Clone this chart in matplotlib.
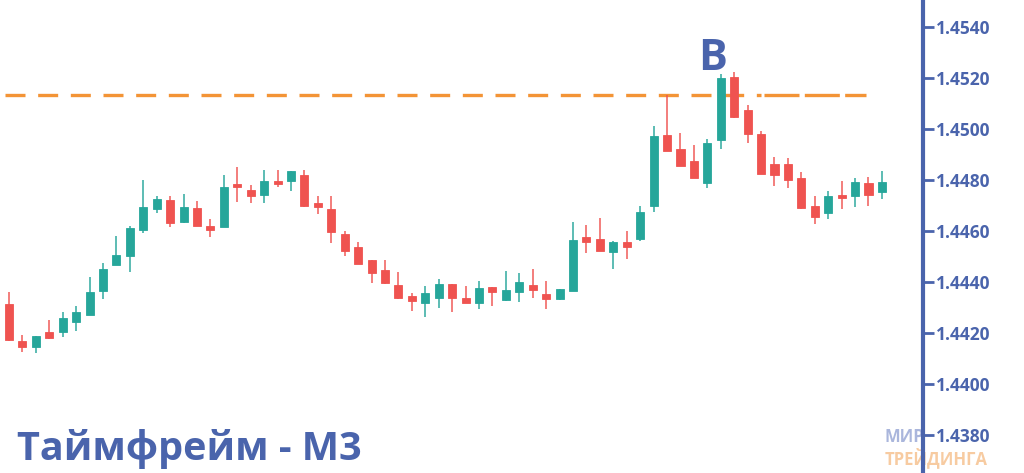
"""
candlestick chart, timeframe M3
"""

import numpy as np
from matplotlib import pyplot as plt

# OHLC values
opens = [1.44314, 1.44169, 1.44145, 1.44204, 1.44204, 1.44243, 1.44271, 1.44365, 1.44467, 1.44502,
         1.44604, 1.44686, 1.44722, 1.44635, 1.44690, 1.44620, 1.44616, 1.44784, 1.44761, 1.44741,
         1.44796, 1.44796, 1.44820, 1.44710, 1.44686, 1.44588, 1.44537, 1.44486, 1.44447, 1.44388,
         1.44345, 1.44318, 1.44337, 1.44392, 1.44337, 1.44318, 1.44380, 1.44329, 1.44361, 1.44388,
         1.44353, 1.44333, 1.44365, 1.44576, 1.44569, 1.44518, 1.44557, 1.44569, 1.44698, 1.44976,
         1.44922, 1.44875, 1.44788, 1.44957, 1.45204, 1.45075, 1.44980, 1.44863, 1.44863, 1.44808,
         1.44698, 1.44671, 1.44741, 1.44737, 1.44788, 1.44753]
highs = [1.44361, 1.44192, 1.44190, 1.44251, 1.44282, 1.44306, 1.44420, 1.44474, 1.44580, 1.44620,
         1.44800, 1.44737, 1.44737, 1.44745, 1.44718, 1.44647, 1.44820, 1.44851, 1.44780, 1.44839,
         1.44839, 1.44837, 1.44839, 1.44737, 1.44737, 1.44600, 1.44557, 1.44488, 1.44488, 1.44439,
         1.44357, 1.44384, 1.44412, 1.44394, 1.44384, 1.44404, 1.44382, 1.44443, 1.44435, 1.44451,
         1.44404, 1.44374, 1.44635, 1.44623, 1.44651, 1.44561, 1.44600, 1.44698, 1.45012, 1.45133,
         1.44984, 1.44937, 1.44961, 1.45216, 1.45224, 1.45094, 1.44992, 1.44890, 1.44886, 1.44831,
         1.44737, 1.44757, 1.44796, 1.44808, 1.44812, 1.44835]
lows = [1.44170, 1.44125, 1.44121, 1.44178, 1.44184, 1.44208, 1.44269, 1.44333, 1.44465, 1.44439,
        1.44592, 1.44671, 1.44616, 1.44633, 1.44618, 1.44576, 1.44614, 1.44714, 1.44710, 1.44710,
        1.44773, 1.44757, 1.44696, 1.44667, 1.44553, 1.44502, 1.44469, 1.44396, 1.44394, 1.44335,
        1.44286, 1.44263, 1.44298, 1.44282, 1.44316, 1.44294, 1.44306, 1.44327, 1.44322, 1.44337,
        1.44294, 1.44331, 1.44363, 1.44514, 1.44520, 1.44451, 1.44490, 1.44561, 1.44674, 1.44912,
        1.44853, 1.44806, 1.44769, 1.44922, 1.45045, 1.44945, 1.44822, 1.44776, 1.44769, 1.44688,
        1.44627, 1.44647, 1.44686, 1.44694, 1.44698, 1.44725]
closes = [1.44172, 1.44145, 1.44188, 1.44180, 1.44259, 1.44282, 1.44361, 1.44451, 1.44506, 1.44612,
          1.44694, 1.44725, 1.44631, 1.44694, 1.44620, 1.44604, 1.44773, 1.44773, 1.44737, 1.44796,
          1.44784, 1.44835, 1.44698, 1.44694, 1.44596, 1.44522, 1.44471, 1.44435, 1.44396, 1.44337,
          1.44325, 1.44357, 1.44392, 1.44337, 1.44318, 1.44376, 1.44361, 1.44369, 1.44400, 1.44369,
          1.44333, 1.44372, 1.44565, 1.44557, 1.44522, 1.44557, 1.44537, 1.44674, 1.44973, 1.44914,
          1.44855, 1.44808, 1.44945, 1.45200, 1.45047, 1.44980, 1.44824, 1.44820, 1.44800, 1.44690,
          1.44655, 1.44737, 1.44729, 1.44792, 1.44741, 1.44792]

level = 1.45133
price_ticks = [1.4380, 1.4400, 1.4420, 1.4440, 1.4460, 1.4480, 1.4500, 1.4520, 1.4540]
title = 'Таймфрейм - M3'
point_label = 'B'

green = '#26a69a'
red = '#ef5350'
blue = '#4a64ac'

fig = plt.figure(figsize=(10.24, 4.73), dpi=100)
ax = fig.add_axes([0, 0, 1, 1])

x = np.arange(len(opens))
o = np.array(opens)
c = np.array(closes)
up = c >= o
colors = [green if u else red for u in up]

# wicks
ax.vlines(x, lows, highs, colors=colors, linewidth=1.4, alpha=0.75, zorder=2)
# bodies
bottoms = np.minimum(o, c)
heights = np.maximum(np.abs(c - o), 0.00008)
ax.bar(x, heights, bottom=bottoms, width=0.6, color=colors, edgecolor=colors,
       linewidth=0.6, zorder=3)

# resistance level
ax.plot([-0.3, 56.0], [level, level], color='#f39436', linewidth=2.4,
        dashes=(6, 3.8), zorder=1)
ax.plot([56.2, 63.8], [level, level], color='#f39436', linewidth=2.4,
        dashes=(10.5, 1.6), zorder=1)

ax.text(52.4, 1.45278, point_label, color=blue, fontsize=31, fontweight='bold',
        family='Open Sans', ha='center', va='center')
ax.text(0.017, 0.05, title, transform=ax.transAxes, color=blue, fontsize=28.5,
        fontweight='bold', family='Open Sans', ha='left', va='center')

# faded logo
ax.text(0.864, 0.077, 'МИР', transform=ax.transAxes, color='#aab6dc', fontsize=12,
        fontweight='bold', family='Open Sans', ha='left', va='center', zorder=0)
ax.text(0.864, 0.032, 'ТРЕЙДИНГА', transform=ax.transAxes, color='#f7cba1', fontsize=12,
        fontweight='bold', family='Open Sans', ha='left', va='center', zorder=0)

ax.set_xlim(-0.67, 75.58)
ax.set_ylim(1.436508, 1.455059)

for s in ['top', 'left', 'bottom']:
    ax.spines[s].set_visible(False)
ax.spines['right'].set_position(('axes', 923 / 1024))
ax.spines['right'].set_color(blue)
ax.spines['right'].set_linewidth(3)

ax.set_xticks([])
ax.yaxis.tick_right()
ax.set_yticks(price_ticks)
ax.set_yticklabels(['%.4f' % p for p in price_ticks])
ax.tick_params(axis='y', direction='out', length=8, width=2, color=blue,
               labelcolor=blue, labelsize=12.5, pad=1)
for lab in ax.get_yticklabels():
    lab.set_fontweight('bold')
    lab.set_family('Open Sans')

fig.savefig('out.png', dpi=100, facecolor='white')
